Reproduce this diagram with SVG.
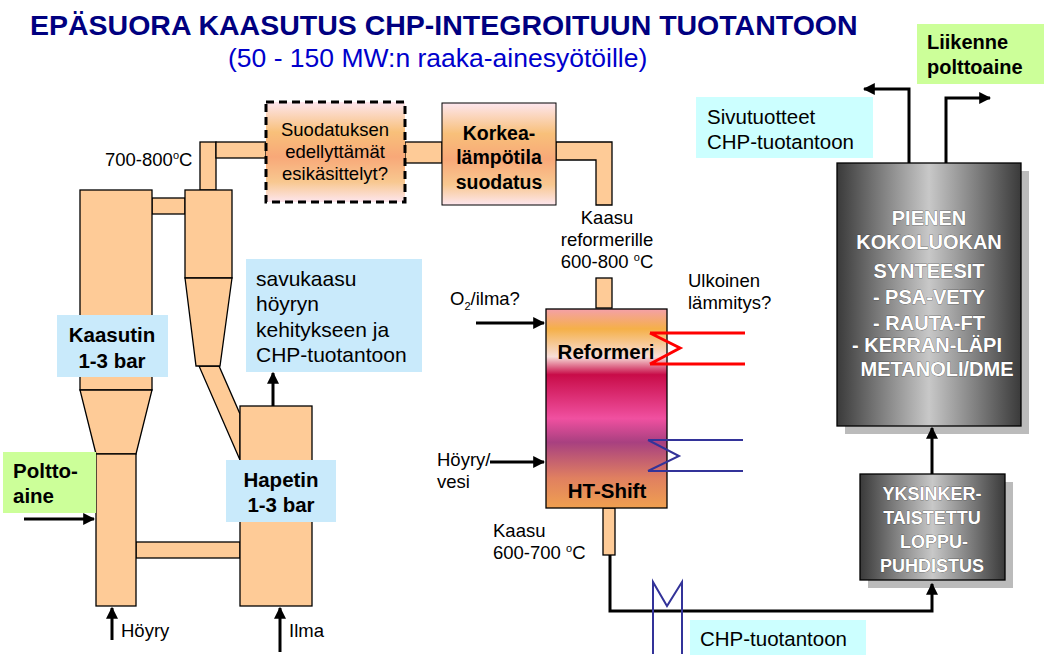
<svg xmlns="http://www.w3.org/2000/svg" width="1044" height="669" viewBox="0 0 1044 669">
<defs>
<style>
.p{fill:#fecb97;stroke:#000;stroke-width:1.3}
.t{font-family:"Liberation Sans",Arial,sans-serif;fill:#000}
.b{font-weight:bold}
.w{font-family:"Liberation Sans",Arial,sans-serif;font-weight:bold;fill:#fff;text-anchor:middle;stroke:#333;stroke-width:0.5;paint-order:stroke}
.ln{fill:none;stroke:#000;stroke-width:3}
.lbl{fill:#c9eafb}
.cy{fill:#ccffff}
.gr{fill:#ccff99}
</style>
<marker id="ah" viewBox="0 0 10 10" refX="9" refY="5" markerWidth="4" markerHeight="4" orient="auto"><path d="M0,0L10,5L0,10z" fill="#000"/></marker>
<linearGradient id="g1" x1="0" y1="0" x2="0" y2="1">
<stop offset="0" stop-color="#fde6ee"/><stop offset="0.3" stop-color="#f8c07a"/><stop offset="0.55" stop-color="#f8a878"/><stop offset="0.8" stop-color="#f8c890"/><stop offset="1" stop-color="#fde6ee"/></linearGradient>
<linearGradient id="g2" x1="0" y1="0" x2="0" y2="1">
<stop offset="0" stop-color="#f4a0a8"/><stop offset="0.1" stop-color="#f5b048"/><stop offset="0.24" stop-color="#f8ddd8"/><stop offset="0.33" stop-color="#c80c48"/><stop offset="0.55" stop-color="#f050a0"/><stop offset="0.67" stop-color="#a84080"/><stop offset="0.85" stop-color="#e08060"/><stop offset="1" stop-color="#f0a050"/></linearGradient>
<linearGradient id="g3" x1="0" y1="0" x2="1" y2="0">
<stop offset="0" stop-color="#3a3a3a"/><stop offset="0.5" stop-color="#c8c8c8"/><stop offset="1" stop-color="#3a3a3a"/></linearGradient>
</defs>
<rect width="1044" height="669" fill="#fff"/>
<text class="t b" x="30" y="35" font-size="28.5" style="fill:#000080">EPÄSUORA KAASUTUS CHP-INTEGROITUUN TUOTANTOON</text>
<text class="t" x="228" y="67" font-size="26.5" style="fill:#0000cc">(50 - 150 MW:n raaka-ainesyötöille)</text>

<g id="kaasutin">
<rect class="p" x="152" y="198" width="33" height="16"/>
<rect class="p" x="136" y="542" width="104" height="16"/>
<rect class="p" x="80" y="190" width="72" height="200"/>
<polygon class="p" points="80,390 152,390 136,454 96,454"/>
<rect class="p" x="96" y="454" width="40" height="152"/>
</g>
<g id="sykloni">
<rect class="p" x="200" y="142" width="16" height="48"/>
<rect class="p" x="216" y="142" width="50" height="16"/>
<polygon class="p" points="199,366 219,366 240,414 240,460"/>
<rect class="p" x="185" y="190" width="47" height="88"/>
<polygon class="p" points="185,278 232,278 220,366 196,366"/>
</g>
<g id="hapetin">
<rect class="p" x="240" y="406" width="72" height="200"/>
</g>
<g id="putket">
<rect class="p" x="405" y="142" width="37" height="21"/>
<path class="p" d="M556,142H612V205H596V160H556Z"/>
<rect class="p" x="596" y="278" width="16" height="30"/>
<rect class="p" x="603" y="508" width="12" height="47"/>
</g>
<g id="esikasittely">
<rect x="266" y="102" width="139" height="100" fill="url(#g1)" stroke="#000" stroke-width="3" stroke-dasharray="8,5"/>
<text class="t" font-size="18.5" text-anchor="middle"><tspan x="335" y="136">Suodatuksen</tspan><tspan x="335" y="158">edellyttämät</tspan><tspan x="335" y="180">esikäsittelyt?</tspan></text>
</g>
<g id="korkea">
<rect x="442" y="103" width="114" height="102" fill="url(#g1)" stroke="#000" stroke-width="1"/>
<text class="t b" font-size="19.5" text-anchor="middle"><tspan x="499" y="140">Korkea-</tspan><tspan x="499" y="164">lämpötila</tspan><tspan x="499" y="189">suodatus</tspan></text>
</g>
<g id="reformeri">
<rect x="546" y="309" width="121" height="199" fill="url(#g2)" stroke="#000" stroke-width="1.3"/>
<text class="t b" x="606" y="359" font-size="20.5" text-anchor="middle">Reformeri</text>
<text class="t b" x="607" y="498" font-size="20.5" text-anchor="middle">HT-Shift</text>
</g>
<g id="yksinker">
<rect x="868" y="482" width="145" height="106" fill="#bbb"/>
<rect x="860" y="474" width="145" height="106" fill="url(#g3)" stroke="#000" stroke-width="1.3"/>
<text class="w" font-size="18"><tspan x="932" y="500">YKSINKER-</tspan><tspan x="932" y="524">TAISTETTU</tspan><tspan x="934" y="548">LOPPU-</tspan><tspan x="932" y="572">PUHDISTUS</tspan></text>
</g>
<g id="pienen">
<rect x="845" y="171" width="184" height="263" fill="#bbb"/>
<rect x="837" y="163" width="184" height="263" fill="url(#g3)" stroke="#000" stroke-width="1.3"/>
<text class="w" font-size="20"><tspan x="929" y="225">PIENEN</tspan><tspan x="929" y="249">KOKOLUOKAN</tspan><tspan x="929" y="278">SYNTEESIT</tspan><tspan x="929" y="304">-  PSA-VETY</tspan><tspan x="929" y="330">-  RAUTA-FT</tspan><tspan x="927" y="352">-  KERRAN-LÄPI</tspan><tspan x="937" y="376">METANOLI/DME</tspan></text>
</g>

<g id="labels">
<rect class="lbl" x="57" y="315" width="111" height="62"/>
<text class="t b" font-size="20.5" text-anchor="middle"><tspan x="112" y="342">Kaasutin</tspan><tspan x="112" y="368">1-3 bar</tspan></text>
<rect class="lbl" x="226" y="460" width="110" height="62"/>
<text class="t b" font-size="20.5" text-anchor="middle"><tspan x="281" y="487">Hapetin</tspan><tspan x="281" y="512">1-3 bar</tspan></text>
<rect class="gr" x="3" y="452" width="93" height="61"/>
<text class="t b" font-size="20.5"><tspan x="13" y="478">Poltto-</tspan><tspan x="13" y="503">aine</tspan></text>
<rect class="lbl" x="246" y="259" width="176" height="113"/>
<text class="t" font-size="21"><tspan x="256" y="286">savukaasu</tspan><tspan x="256" y="311">höyryn</tspan><tspan x="256" y="337">kehitykseen ja</tspan><tspan x="256" y="362">CHP-tuotantoon</tspan></text>
<rect class="cy" x="696" y="97" width="177" height="61"/>
<text class="t" font-size="20.5"><tspan x="707" y="124">Sivutuotteet</tspan><tspan x="707" y="149">CHP-tuotantoon</tspan></text>
<rect class="gr" x="917" y="24" width="127" height="60"/>
<text class="t b" font-size="20"><tspan x="927" y="49">Liikenne</tspan><tspan x="927" y="74">polttoaine</tspan></text>
<rect class="cy" x="690" y="620" width="176" height="35"/>
<text class="t" x="700" y="646" font-size="20.5">CHP-tuotantoon</text>
<text class="t" x="105" y="166" font-size="18.5">700-800<tspan font-size="11" dy="-7">o</tspan><tspan dy="7">C</tspan></text>
<text class="t" font-size="18.5" text-anchor="middle"><tspan x="607" y="224">Kaasu</tspan><tspan x="607" y="246">reformerille</tspan><tspan x="607" y="268">600-800 <tspan font-size="11" dy="-7">o</tspan><tspan dy="7">C</tspan></tspan></text>
<text class="t" x="450" y="305" font-size="18.5">O<tspan font-size="11" dy="5">2</tspan><tspan dy="-5">/ilma?</tspan></text>
<text class="t" font-size="18.5"><tspan x="688" y="287">Ulkoinen</tspan><tspan x="688" y="309">lämmitys?</tspan></text>
<text class="t" font-size="18.5"><tspan x="437" y="466">Höyry/</tspan><tspan x="437" y="488">vesi</tspan></text>
<text class="t" font-size="18.5"><tspan x="493" y="537">Kaasu</tspan><tspan x="493" y="559">600-700 <tspan font-size="11" dy="-7">o</tspan><tspan dy="7">C</tspan></tspan></text>
<text class="t" x="121" y="637" font-size="18.5">Höyry</text>
<text class="t" x="289" y="637" font-size="18.5">Ilma</text>
</g>

<g id="connectors">
<line class="ln" x1="24" y1="519" x2="94" y2="519" marker-end="url(#ah)"/>
<line class="ln" x1="112" y1="640" x2="112" y2="608" marker-end="url(#ah)"/>
<line class="ln" x1="280" y1="652" x2="280" y2="608" marker-end="url(#ah)"/>
<line class="ln" x1="273" y1="406" x2="273" y2="373" marker-end="url(#ah)"/>
<line class="ln" x1="476" y1="323" x2="544" y2="323" marker-end="url(#ah)"/>
<line class="ln" x1="490" y1="462" x2="544" y2="462" marker-end="url(#ah)"/>
<path class="ln" d="M610,555V611H932V584" marker-end="url(#ah)"/>
<line class="ln" x1="932" y1="474" x2="932" y2="428" marker-end="url(#ah)"/>
<path class="ln" d="M909,163V89H864" marker-end="url(#ah)"/>
<path class="ln" d="M946,163V98H990" marker-end="url(#ah)"/>
<path d="M650,333H745M650,364H745M650,333L680,348L650,364" fill="none" stroke="#f00" stroke-width="3"/>
<path d="M648,440H743M648,471H743M648,440L679,456L648,471" fill="none" stroke="#333399" stroke-width="2"/>
<path d="M653,654V582L667,606L682,582V654" fill="none" stroke="#333399" stroke-width="2"/>
</g>
</svg>
